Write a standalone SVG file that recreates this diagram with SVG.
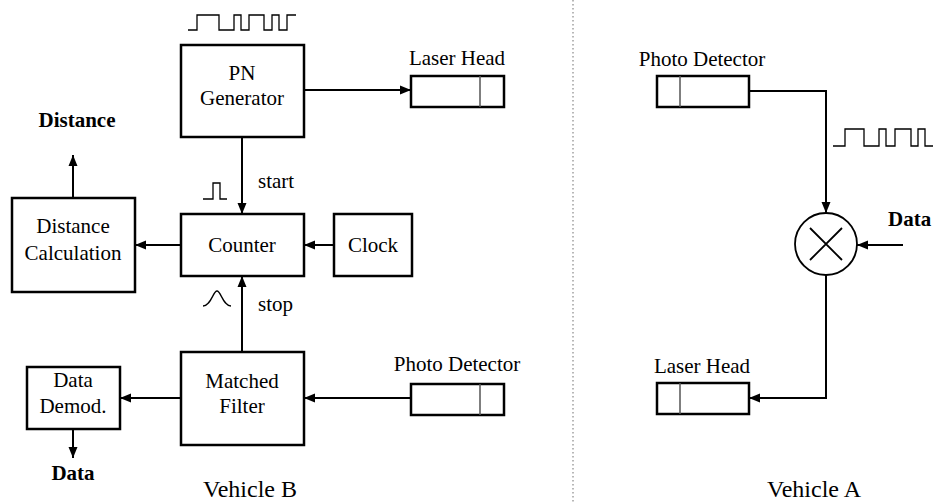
<svg xmlns="http://www.w3.org/2000/svg" width="933" height="504" viewBox="0 0 933 504">
<style>
.box{fill:#fff;stroke:#000;stroke-width:2.5}
.div{stroke:#555;stroke-width:1.5}
.t{font-family:"Liberation Serif","Times New Roman",serif;font-size:21px;fill:#000}
.c{text-anchor:middle}
.b{font-weight:bold}
.v{font-size:24px}
.w{fill:none;stroke:#000;stroke-width:1.3}
.ln{fill:none;stroke:#000;stroke-width:2}
</style>
<defs>
<marker id="ah" markerUnits="userSpaceOnUse" markerWidth="12" markerHeight="10" refX="11" refY="5" orient="auto">
<path d="M0,0.5 L11,5 L0,9.5 z" fill="#000"/>
</marker>
</defs>
<rect width="933" height="504" fill="#fff"/>
<line x1="573" y1="0" x2="573" y2="504" stroke="#888" stroke-width="1.2" stroke-dasharray="1.5,2.5"/>

<g id="connectors">
<path class="ln" d="M304,90 H411" marker-end="url(#ah)"/>
<path class="ln" d="M242,137 V214" marker-end="url(#ah)"/>
<path class="ln" d="M334,245 H304" marker-end="url(#ah)"/>
<path class="ln" d="M181,245 H135" marker-end="url(#ah)"/>
<path class="ln" d="M73,198 V155" marker-end="url(#ah)"/>
<path class="ln" d="M242,352 V276" marker-end="url(#ah)"/>
<path class="ln" d="M411,398 H304" marker-end="url(#ah)"/>
<path class="ln" d="M181,398 H120" marker-end="url(#ah)"/>
<path class="ln" d="M73,429 V458" marker-end="url(#ah)"/>
<path class="ln" d="M749,91 H826 V213" marker-end="url(#ah)"/>
<path class="ln" d="M903,245 H857" marker-end="url(#ah)"/>
<path class="ln" d="M826,275 V398 H749" marker-end="url(#ah)"/>
</g>

<g id="waveforms">
<path class="w" d="M188,30 H197 V15 H219 V30 H234 V15 H241 V30 H249 V15 H264 V30 H272 V15 H279 V30 H287 V15 H296"/>
<path class="w" d="M833,146 H845 V129 H864 V146 H879 V129 H886 V146 H895 V129 H911 V146 H918 V129 H925 V146 H933"/>
<path class="w" d="M203,199 H213 V183 H220 V199 H227"/>
<path class="w" d="M203,306 C211,306 213,291 217,291 C221,291 223,306 231,306"/>
</g>

<g id="pn-generator">
<rect class="box" x="181" y="45" width="123" height="92"/>
<text class="t c" x="242" y="80">PN</text>
<text class="t c" x="242" y="105">Generator</text>
</g>

<g id="laser-head-b">
<text class="t c" x="457" y="65">Laser Head</text>
<rect class="box" x="411" y="76" width="93" height="31"/>
<line class="div" x1="480" y1="76" x2="480" y2="107"/>
</g>

<g id="counter">
<rect class="box" x="181" y="214" width="123" height="62"/>
<text class="t c" x="242" y="252">Counter</text>
</g>

<g id="clock">
<rect class="box" x="334" y="214" width="78" height="62"/>
<text class="t c" x="373" y="252">Clock</text>
</g>

<g id="distance-calc">
<rect class="box" x="12" y="198" width="123" height="94"/>
<text class="t c" x="73" y="233">Distance</text>
<text class="t c" x="73" y="260">Calculation</text>
</g>

<g id="matched-filter">
<rect class="box" x="181" y="352" width="123" height="93"/>
<text class="t c" x="242" y="388">Matched</text>
<text class="t c" x="242" y="413">Filter</text>
</g>

<g id="data-demod">
<rect class="box" x="27" y="367" width="93" height="62"/>
<text class="t c" x="73" y="387">Data</text>
<text class="t c" x="73" y="413">Demod.</text>
</g>

<g id="photo-detector-b">
<text class="t c" x="457" y="371">Photo Detector</text>
<rect class="box" x="411" y="384" width="93" height="31"/>
<line class="div" x1="480" y1="384" x2="480" y2="415"/>
</g>

<g id="labels-b">
<text class="t c b" x="77" y="127">Distance</text>
<text class="t" x="258" y="188">start</text>
<text class="t" x="258" y="311">stop</text>
<text class="t c b" x="73" y="480">Data</text>
<text class="t c v" x="250" y="497">Vehicle B</text>
</g>

<g id="photo-detector-a">
<text class="t c" x="702" y="66">Photo Detector</text>
<rect class="box" x="657" y="76" width="92" height="31"/>
<line class="div" x1="680" y1="76" x2="680" y2="107"/>
</g>

<g id="mixer">
<circle cx="826" cy="244" r="31" fill="#fff" stroke="#000" stroke-width="1.8"/>
<path d="M810,228 L842,260 M842,228 L810,260" stroke="#000" stroke-width="1.8"/>
</g>

<g id="laser-head-a">
<text class="t c" x="702" y="373">Laser Head</text>
<rect class="box" x="657" y="383" width="92" height="31"/>
<line class="div" x1="680" y1="383" x2="680" y2="414"/>
</g>

<g id="labels-a">
<text class="t b" x="888" y="226">Data</text>
<text class="t c v" x="814" y="497">Vehicle A</text>
</g>
</svg>
